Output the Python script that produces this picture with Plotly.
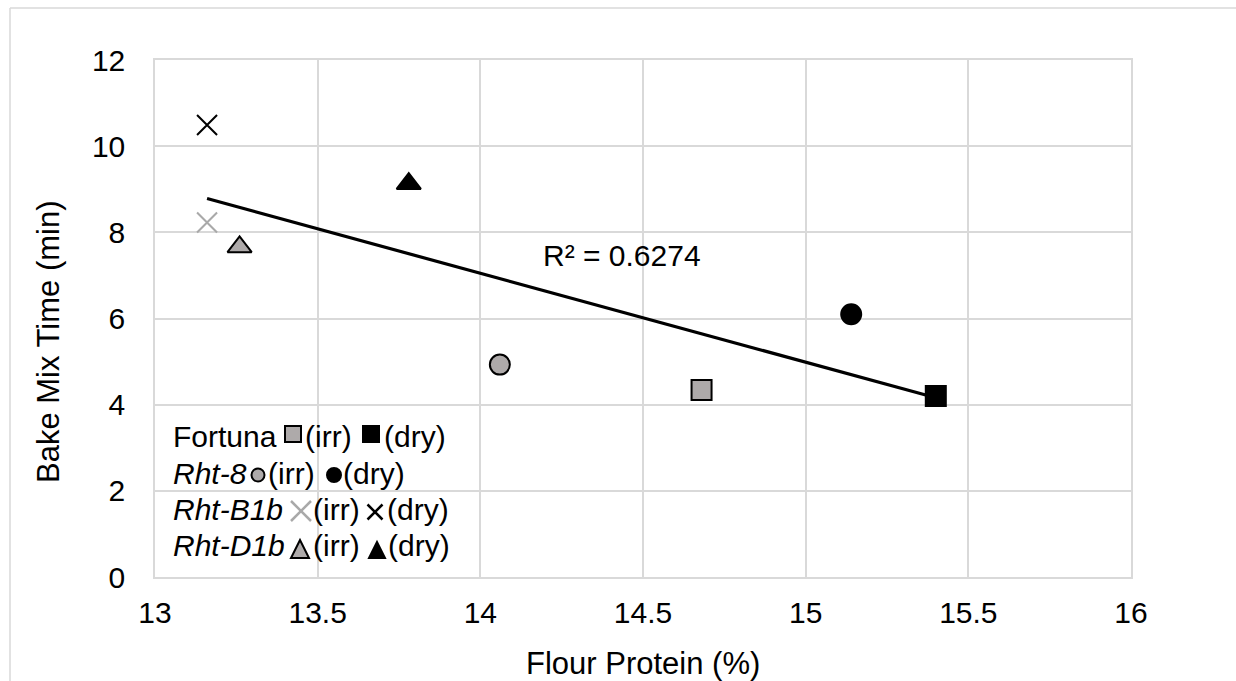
import numpy as np
import plotly.graph_objects as go

# ---------------- data ----------------
fortuna_x = [14.68, 15.40]
fortuna_y = [4.34, 4.20]
rht8_x = [14.06, 15.14]
rht8_y = [4.93, 6.10]
rhtb1b_x = [13.16, 13.16]
rhtb1b_y = [8.23, 10.49]
rhtd1b_x = [13.26, 13.78]
rhtd1b_y = [7.66, 9.13]
treatments = ["irr", "dry"]

x_ticks = [13, 13.5, 14, 14.5, 15, 15.5, 16]
y_ticks = [0, 2, 4, 6, 8, 10, 12]
x_title = "Flour Protein (%)"
y_title = "Bake Mix Time (min)"
r2_label = "R² = 0.6274"
legend_names = ["Fortuna", "<i>Rht-8</i>", "<i>Rht-B1b</i>", "<i>Rht-D1b</i>"]

# ---------------- styles ----------------
W, H = 1236, 681
L, R, T, B = 155, 105, 60, 104
PW, PH = W - L - R, H - T - B
GRAY = "#AEAAAA"
XGRAY = "#A9A9A9"
GRID = "#D9D9D9"
FONT = "Liberation Sans, Arial, sans-serif"

def px(xp):
    return (xp - L) / PW

def py(yp):
    return (H - B - yp) / PH

fig = go.Figure()

def add_pair(xs, ys, symbol, size, name, xmarker=False):
    colors = [GRAY, "black"]
    for i in range(2):
        if xmarker:
            c = [XGRAY, "black"][i]
            mk = dict(symbol=symbol, size=size, color=c,
                      line=dict(color=c, width=2))
        else:
            mk = dict(symbol=symbol, size=size, color=colors[i],
                      line=dict(color="black", width=2))
        fig.add_trace(go.Scatter(x=[xs[i]], y=[ys[i]], mode="markers",
                                 marker=mk, name=f"{name} ({treatments[i]})",
                                 showlegend=False, hoverinfo="x+y"))

add_pair(fortuna_x, fortuna_y, "square", 20, "Fortuna")
add_pair(rht8_x, rht8_y, "circle", 20, "Rht-8")
add_pair(rhtb1b_x, rhtb1b_y, "x-thin-open", 20, "Rht-B1b", xmarker=True)
add_pair(rhtd1b_x, rhtd1b_y, "triangle-up", 21, "Rht-D1b")

# linear trendline through all points
all_x = np.array(fortuna_x + rht8_x + rhtb1b_x + rhtd1b_x)
all_y = np.array(fortuna_y + rht8_y + rhtb1b_y + rhtd1b_y)
slope, intercept = np.polyfit(all_x, all_y, 1)
tx = np.array([all_x.min(), all_x.max()])
fig.add_trace(go.Scatter(x=tx, y=slope * tx + intercept, mode="lines",
                         line=dict(color="black", width=3.2),
                         showlegend=False, hoverinfo="skip"))

axis_common = dict(showgrid=True, gridcolor=GRID, gridwidth=1.5,
                   showline=True, linecolor=GRID, linewidth=1.5, mirror=True,
                   zeroline=False, ticks="",
                   tickfont=dict(family=FONT, size=30, color="black"))

fig.update_layout(
    width=W, height=H,
    margin=dict(l=L, r=R, t=T, b=B, pad=0),
    paper_bgcolor="white", plot_bgcolor="white",
    font=dict(family=FONT, color="black"),
    xaxis=dict(range=[13, 16], tickvals=x_ticks,
               ticktext=[f"{v:g}" for v in x_ticks],
               ticklabelstandoff=8, **axis_common),
    yaxis=dict(range=[0, 12], tickvals=y_ticks,
               ticktext=[str(v) for v in y_ticks],
               ticklabelstandoff=22, **axis_common),
)

annotations = []
# axis titles
annotations.append(dict(text=x_title, xref="paper", yref="paper",
                        x=px(643), y=py(663), xanchor="center", yanchor="middle",
                        showarrow=False, font=dict(family=FONT, size=31)))
annotations.append(dict(text=y_title, xref="paper", yref="paper",
                        x=px(48), y=py(342), xanchor="center", yanchor="middle",
                        textangle=-90, showarrow=False,
                        font=dict(family=FONT, size=31)))
# R2 label
annotations.append(dict(text=r2_label, xref="paper", yref="paper",
                        x=px(541), y=py(255), xanchor="left", yanchor="middle",
                        showarrow=False, font=dict(family=FONT, size=30)))

# custom legend text
line_y = [436, 473, 509, 545]
irr_x = [303, 266, 311, 311]
dry_x = [382, 341, 385, 386]
for i, nm in enumerate(legend_names):
    for txt, xx in [(nm, 171), ("(irr)", irr_x[i]), ("(dry)", dry_x[i])]:
        annotations.append(dict(text=txt, xref="paper", yref="paper",
                                x=px(xx), y=py(line_y[i]), xanchor="left",
                                yanchor="middle", showarrow=False,
                                font=dict(family=FONT, size=30)))
fig.update_layout(annotations=annotations)

shapes = []
# outer chart border (cropped)
shapes.append(dict(type="line", xref="paper", yref="paper",
                   x0=px(10), x1=px(10), y0=py(8), y1=py(700),
                   line=dict(color=GRID, width=1.5)))
shapes.append(dict(type="line", xref="paper", yref="paper",
                   x0=px(10), x1=px(1300), y0=py(8), y1=py(8),
                   line=dict(color=GRID, width=1.5)))

def rect(cx, cy, h, fill):
    return dict(type="rect", xref="paper", yref="paper",
                x0=px(cx - h), x1=px(cx + h), y0=py(cy + h), y1=py(cy - h),
                fillcolor=fill, line=dict(color="black", width=2))

def circ(cx, cy, h, fill):
    return dict(type="circle", xref="paper", yref="paper",
                x0=px(cx - h), x1=px(cx + h), y0=py(cy + h), y1=py(cy - h),
                fillcolor=fill, line=dict(color="black", width=2))

def tri(cx, cy, h, fill):
    pts = [(cx - h, cy + h), (cx + h, cy + h), (cx, cy - h)]
    path = "M " + " L ".join(f"{px(a)},{py(b)}" for a, b in pts) + " Z"
    return dict(type="path", xref="paper", yref="paper", path=path,
                fillcolor=fill, line=dict(color="black", width=2))

def xsym(cx, cy, h, col):
    path = (f"M {px(cx-h)},{py(cy-h)} L {px(cx+h)},{py(cy+h)} "
            f"M {px(cx-h)},{py(cy+h)} L {px(cx+h)},{py(cy-h)}")
    return dict(type="path", xref="paper", yref="paper", path=path,
                line=dict(color=col, width=2.5))

shapes += [rect(293, 434, 8, GRAY), rect(371, 434, 8, "black"),
           circ(258, 475, 6.5, GRAY), circ(334, 475, 7, "black"),
           xsym(301, 511, 10, XGRAY), xsym(375, 512, 7.5, "black"),
           tri(300, 549, 9, GRAY), tri(377, 550, 8, "black")]
fig.update_layout(shapes=shapes)

fig.write_html("out.html")
